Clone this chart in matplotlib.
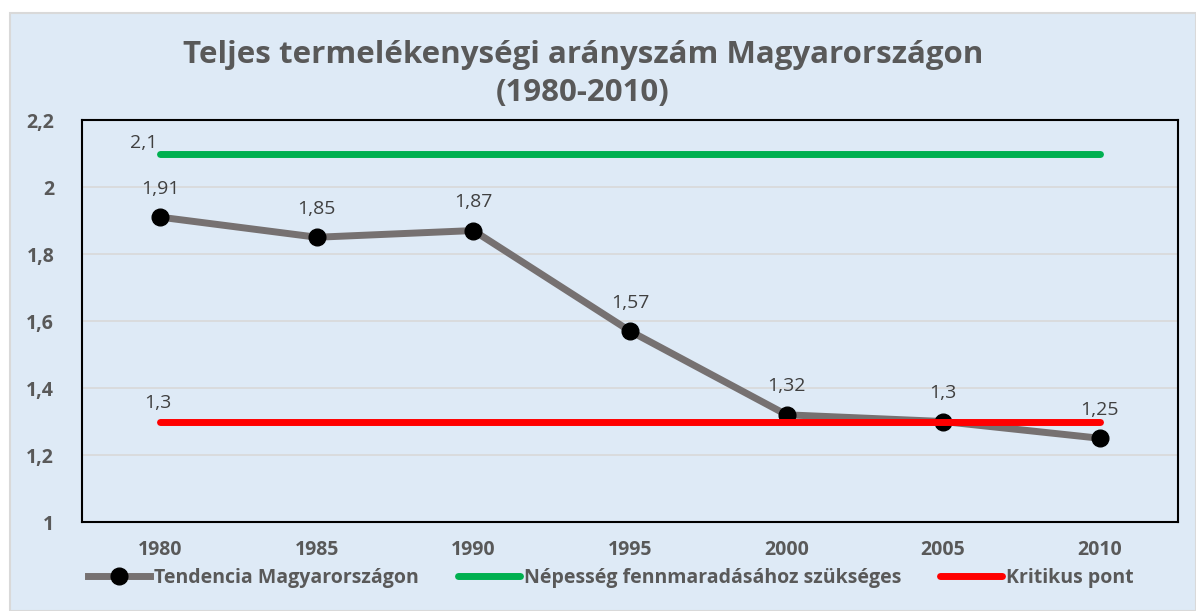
import matplotlib.pyplot as plt
from matplotlib.patches import Rectangle

years = ["1980", "1985", "1990", "1995", "2000", "2005", "2010"]
tendencia = [1.91, 1.85, 1.87, 1.57, 1.32, 1.30, 1.25]
nepesseg = [2.1, 2.1, 2.1, 2.1, 2.1, 2.1, 2.1]
kritikus = [1.3, 1.3, 1.3, 1.3, 1.3, 1.3, 1.3]
yticks = [1, 1.2, 1.4, 1.6, 1.8, 2, 2.2]

def hu(v):
    return ("%g" % v).replace(".", ",")

plt.rcParams['font.family'] = ['Open Sans', 'DejaVu Sans']
bg = "#DEEAF6"
txt = "#595959"

fig = plt.figure(figsize=(11.96, 6.11), dpi=100)
fig.patch.set_facecolor("white")
fig.patches.append(Rectangle((10 / 1196, 0), 1 - 10 / 1196, 1 - 13 / 611, transform=fig.transFigure,
                             facecolor=bg, edgecolor="#D9D9D9", linewidth=1.5, zorder=-10))

ax = fig.add_axes([82 / 1196, 1 - 522 / 611, (1178 - 82) / 1196, (522 - 120) / 611])
ax.set_facecolor(bg)
x = list(range(len(years)))

ax.plot(x, tendencia, color="#767171", lw=5, marker="o", ms=12, mfc="black", mec="black",
        zorder=3, label="Tendencia Magyarországon")
ax.plot(x, nepesseg, color="#00B050", lw=5, solid_capstyle="round", zorder=4,
        label="Népesség fennmaradásához szükséges")
ax.plot(x, kritikus, color="#FF0000", lw=5, solid_capstyle="round", zorder=5, label="Kritikus pont")

for i, v in enumerate(tendencia):
    ax.annotate(hu(v), (i, v), xytext=(0, 14), textcoords="offset points", ha="center", va="bottom",
                fontsize=14, color="#404040")
ax.annotate(hu(nepesseg[0]), (0, nepesseg[0]), xytext=(-12, 1), textcoords="offset points",
            ha="center", va="bottom", fontsize=14, color="#404040")
ax.annotate(hu(kritikus[0]), (0, kritikus[0]), xytext=(-2, 7), textcoords="offset points",
            ha="center", va="bottom", fontsize=14, color="#404040")

ax.set_xlim(-0.5, len(years) - 0.5)
ax.set_ylim(1, 2.2)
ax.set_xticks(x)
ax.set_xticklabels(years, fontsize=14, fontweight="bold", color=txt)
ax.set_yticks(yticks)
ax.set_yticklabels([hu(v) for v in yticks], fontsize=14, fontweight="bold", color=txt)
ax.tick_params(length=0, pad=20)
ax.tick_params(axis="x", pad=13)
ax.yaxis.grid(True, color="#D9D9D9", lw=1.2)
ax.set_axisbelow(True)
for s in ax.spines.values():
    s.set_color("black")
    s.set_linewidth(1.5)

fig.text(583 / 1196, 1 - 74 / 611, "Teljes termelékenységi arányszám Magyarországon\n(1980-2010)",
         ha="center", va="center", fontsize=22.5, fontweight="bold", color=txt, linespacing=1.35)

fig.legend(loc="center", bbox_to_anchor=(611 / 1196, 1 - 578 / 611), ncol=3, frameon=False,
           prop={"size": 14, "weight": "bold"}, labelcolor=txt, handlelength=3.2,
           handletextpad=0.2, columnspacing=2.0)

fig.savefig("out.png", dpi=100, facecolor=fig.get_facecolor())
